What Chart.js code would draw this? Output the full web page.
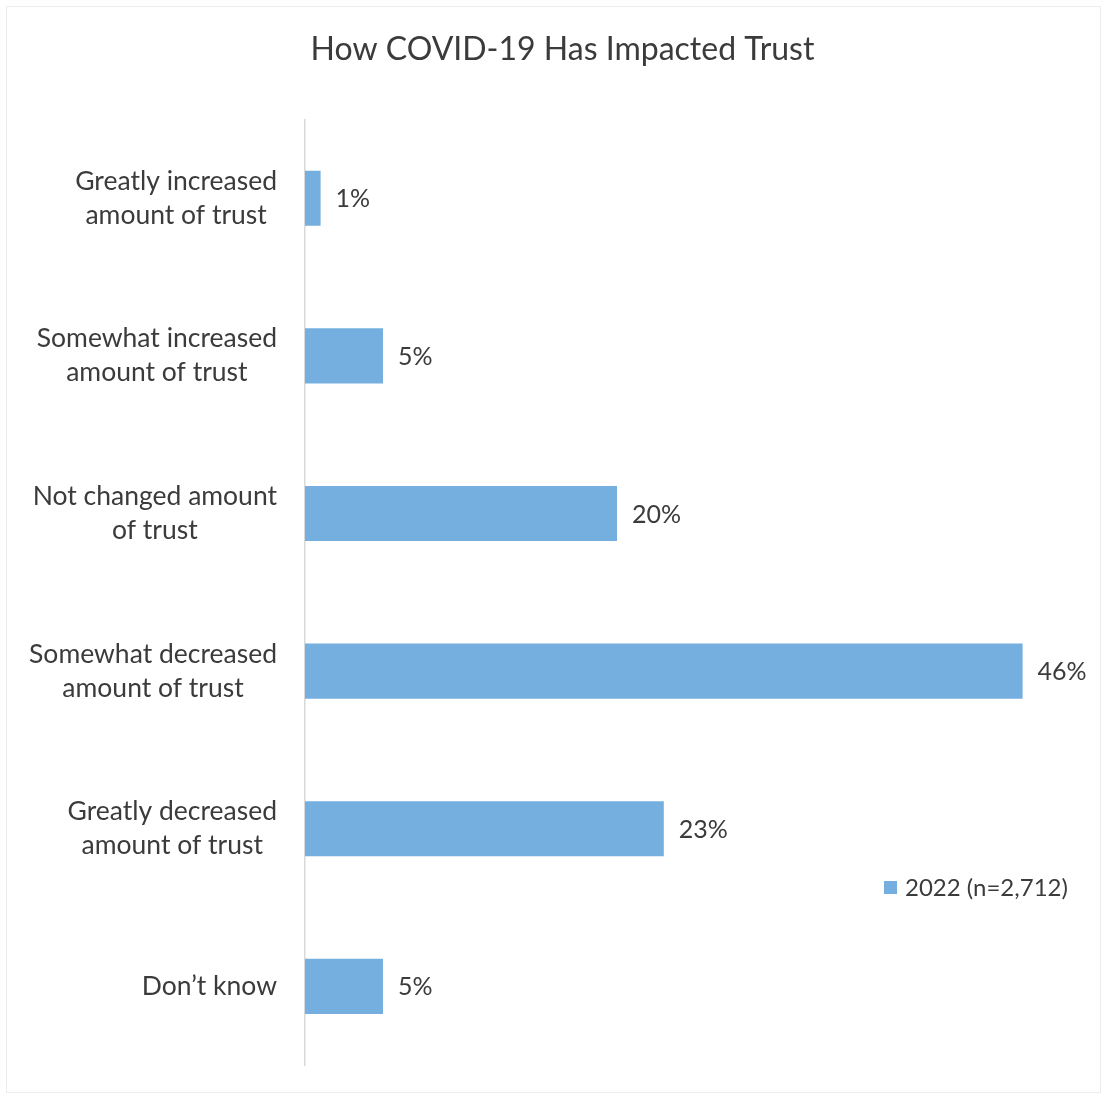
<!DOCTYPE html>
<html>
<head>
<meta charset="utf-8">
<script src="https://cdn.jsdelivr.net/npm/chart.js@4.4.1/dist/chart.umd.min.js"></script>
<style>
  body { margin: 0; background: #fff; }
  #wrap { position: relative; width: 1105px; height: 1097px; }
  #wrap:before { content: ''; position: absolute; left: 6px; top: 6px; right: 4px; bottom: 4px; border: 1px solid #ececec; }
</style>
</head>
<body>
<div id="wrap"><canvas id="grafico" width="1105" height="1097"></canvas></div>
<script>
const titulo = 'How COVID-19 Has Impacted Trust';
const categorias = [
  ['Greatly increased', 'amount of trust'],
  ['Somewhat increased', 'amount of trust'],
  ['Not changed amount', 'of trust'],
  ['Somewhat decreased', 'amount of trust'],
  ['Greatly decreased', 'amount of trust'],
  ['Don\u2019t know']
];
const serieNombre = '2022 (n=2,712)';
const valores = [1, 5, 20, 46, 23, 5];

const FUENTE = 'Lato, "Open Sans", sans-serif';
const TEXTO = '#3b3b3b';
const AZUL = '#74afdf';

// etiquetas del eje: bloque alineado a la derecha, lineas centradas
const etiquetasEje = {
  id: 'etiquetasEje',
  afterDraw(chart) {
    const y = chart.scales.y;
    const c = chart.ctx;
    c.save();
    c.font = '26.5px ' + FUENTE;
    c.fillStyle = TEXTO;
    c.textAlign = 'center';
    c.textBaseline = 'middle';
    const derecha = chart.chartArea.left - 28;
    categorias.forEach((lineas, i) => {
      const ancho = Math.max(...lineas.map(l => c.measureText(l).width));
      const cy = y.getPixelForValue(i);
      const alto = 34;
      lineas.forEach((l, j) => {
        c.fillText(l, derecha - ancho / 2, cy + (j - (lineas.length - 1) / 2) * alto);
      });
    });
    c.restore();
  }
};

// valores al final de cada barra
const etiquetasValor = {
  id: 'etiquetasValor',
  afterDatasetsDraw(chart) {
    const c = chart.ctx;
    c.save();
    c.font = '25px ' + FUENTE;
    c.fillStyle = TEXTO;
    c.textAlign = 'left';
    c.textBaseline = 'middle';
    chart.getDatasetMeta(0).data.forEach((bar, i) => {
      c.fillText(valores[i] + '%', bar.x + 15, bar.y + 1);
    });
    c.restore();
  }
};

// leyenda dentro del area
const leyenda = {
  id: 'leyenda',
  afterDraw(chart) {
    const c = chart.ctx;
    c.save();
    c.fillStyle = AZUL;
    c.fillRect(884, 881, 13, 13);
    c.font = '24px ' + FUENTE;
    c.fillStyle = TEXTO;
    c.textBaseline = 'middle';
    c.fillText(chart.data.datasets[0].label, 905, 888);
    c.restore();
  }
};

const ctx = document.getElementById('grafico').getContext('2d');
new Chart(ctx, {
  type: 'bar',
  data: {
    labels: categorias,
    datasets: [{
      label: serieNombre,
      data: valores,
      backgroundColor: AZUL,
      barPercentage: 0.35,
      categoryPercentage: 1
    }]
  },
  options: {
    indexAxis: 'y',
    responsive: false,
    animation: false,
    layout: { padding: { top: 30, left: 40, right: 20, bottom: 28 } },
    plugins: {
      legend: { display: false },
      tooltip: { enabled: false },
      title: {
        display: true,
        text: titulo,
        color: TEXTO,
        font: { family: FUENTE, size: 32, weight: 'normal' },
        padding: { top: 0, bottom: 51 }
      }
    },
    scales: {
      x: { min: 0, max: 50, display: false },
      y: {
        grid: { display: false },
        border: { display: true, color: '#d9d9d9', width: 1.5 },
        ticks: { color: 'rgba(0,0,0,0)', font: { family: FUENTE, size: 24 } },
        afterFit: s => { s.width = 265; }
      }
    }
  },
  plugins: [etiquetasEje, etiquetasValor, leyenda]
});
</script>
</body>
</html>
